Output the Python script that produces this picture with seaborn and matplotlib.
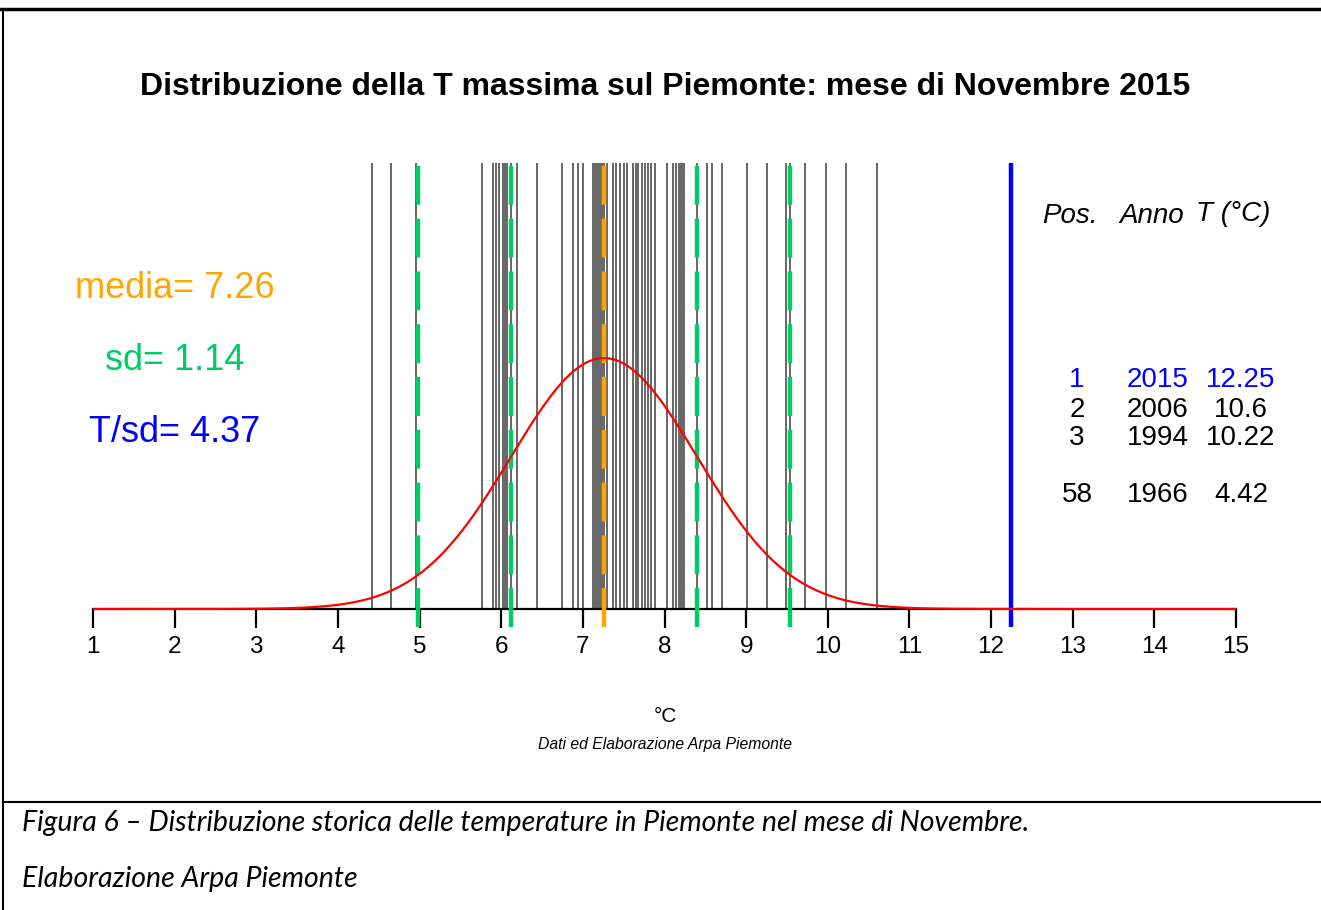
import numpy as np
import pandas as pd
import matplotlib
matplotlib.use("Agg")
import matplotlib.pyplot as plt
import seaborn as sns

# Tmax novembre, anni storici
temps = [4.42, 4.65, 4.96, 5.77, 5.90, 5.94, 5.97, 6.02, 6.05, 6.07, 6.12, 6.19,
         6.44, 6.75, 6.88, 6.94, 7.00, 7.13, 7.15, 7.17, 7.19, 7.21, 7.23, 7.26,
         7.30, 7.37, 7.40, 7.45, 7.50, 7.54, 7.61, 7.65, 7.68, 7.72, 7.76, 7.80,
         7.84, 7.88, 8.03, 8.10, 8.14, 8.18, 8.20, 8.22, 8.24, 8.40, 8.52, 8.58,
         8.71, 9.01, 9.25, 9.49, 9.54, 9.72, 9.98, 10.22, 10.6]
t_2015 = 12.25
media = 7.26
sd = 1.14
t_over_sd = 4.37
x_ticks = list(range(1, 16))

table_pos = ["1", "2", "3", "58"]
table_anno = ["2015", "2006", "1994", "1966"]
table_t = ["12.25", "10.6", "10.22", "4.42"]

sns.set_style("white")
plt.rcParams['font.family'] = ['Liberation Sans', 'DejaVu Sans']
plt.rcParams['text.color'] = 'black'
plt.rcParams['lines.scale_dashes'] = False

W, H = 1321, 910
fig = plt.figure(figsize=(W / 100, H / 100), dpi=100)


def fx(x):
    return x / W


def fy(y):
    return 1 - y / H


# axes placed to match the reference plot region
ax = fig.add_axes([fx(93), fy(627), fx(1236) - fx(93), fy(163) - fy(627)])
y_top = 0.622
ax.set_xlim(1, 15)
ax.set_ylim(-0.0251, y_top)

# gray lines for each year
ax.vlines(temps, 0, y_top, color="#666666", lw=1.4, zorder=1)

# normal curve
xs = np.linspace(1, 15, 400)
curve = pd.DataFrame({"x": xs,
                      "y": np.exp(-0.5 * ((xs - media) / sd) ** 2) / (sd * np.sqrt(2 * np.pi))})
sns.lineplot(data=curve, x="x", y="y", color="red", lw=1.6, ax=ax, zorder=4)

# mean and sd lines
green = "#00cc66"
orange = "#ffa500"
for v in [media - 2 * sd, media - sd, media + sd, media + 2 * sd]:
    ax.axvline(v, color=green, lw=3.2, dashes=(28, 10), zorder=3)
ax.axvline(media, color=orange, lw=3.2, dashes=(28, 10), zorder=3)
ax.axvline(t_2015, color="blue", lw=3.2, zorder=3)

# x axis
for s in ["left", "right", "top"]:
    ax.spines[s].set_visible(False)
ax.spines["bottom"].set_position(("data", 0))
ax.spines["bottom"].set_bounds(1, 15)
ax.spines["bottom"].set_linewidth(1.6)
ax.spines["bottom"].set_color("black")
ax.spines["bottom"].set_zorder(2)
ax.set_xticks(x_ticks)
ax.set_xticklabels([str(t) for t in x_ticks])
ax.tick_params(axis="x", direction="out", length=13.5, width=1.6, pad=6,
               labelsize=17.5, colors="black", bottom=True)
ax.set_yticks([])
ax.set_xlabel("")
ax.set_ylabel("")
ax.patch.set_alpha(0)

# title and texts
fig.text(fx(665), fy(87), "Distribuzione della T massima sul Piemonte: mese di Novembre 2015",
         ha="center", va="center", fontsize=23, fontweight="bold")
fig.text(fx(175), fy(289), f"media= {media}", ha="center", va="center",
         fontsize=26, color=orange)
fig.text(fx(175), fy(361), f"sd= {sd}", ha="center", va="center",
         fontsize=26, color=green)
fig.text(fx(175), fy(432), f"T/sd= {t_over_sd}", ha="center", va="center",
         fontsize=26, color="blue")

fig.text(fx(1070), fy(216), "Pos.", ha="center", va="center", fontsize=20, style="italic")
fig.text(fx(1152), fy(216), "Anno", ha="center", va="center", fontsize=20, style="italic")
fig.text(fx(1233), fy(214), "T (°C)", ha="center", va="center", fontsize=20, style="italic")
row_y = [380, 410, 438, 495]
for i in range(len(table_pos)):
    c = "blue" if i == 0 else "black"
    fig.text(fx(1077), fy(row_y[i]), table_pos[i], ha="center", va="center", fontsize=20, color=c)
    fig.text(fx(1158), fy(row_y[i]), table_anno[i], ha="center", va="center", fontsize=20, color=c)
    fig.text(fx(1241), fy(row_y[i]), table_t[i], ha="center", va="center", fontsize=20, color=c)

fig.text(fx(665), fy(717), "°C", ha="center", va="center", fontsize=15)
fig.text(fx(665), fy(745), "Dati ed Elaborazione Arpa Piemonte", ha="center", va="center",
         fontsize=11.3, style="italic")

# page frame and caption
fig.add_artist(plt.Line2D([0, 1], [fy(9), fy(9)], color="black", lw=2.5))
fig.add_artist(plt.Line2D([fx(3), fx(3)], [0, fy(9)], color="black", lw=1.5))
fig.add_artist(plt.Line2D([fx(3), 1], [fy(802), fy(802)], color="black", lw=1.5))
fig.text(fx(22), fy(823), "Figura 6 \u2013 Distribuzione storica delle temperature in Piemonte nel mese di Novembre.",
         ha="left", va="center", fontsize=20.5, style="italic", family=["Lato", "DejaVu Sans"])
fig.text(fx(22), fy(879), "Elaborazione Arpa Piemonte",
         ha="left", va="center", fontsize=20.5, style="italic", family=["Lato", "DejaVu Sans"])

fig.savefig("out.png", dpi=100)
